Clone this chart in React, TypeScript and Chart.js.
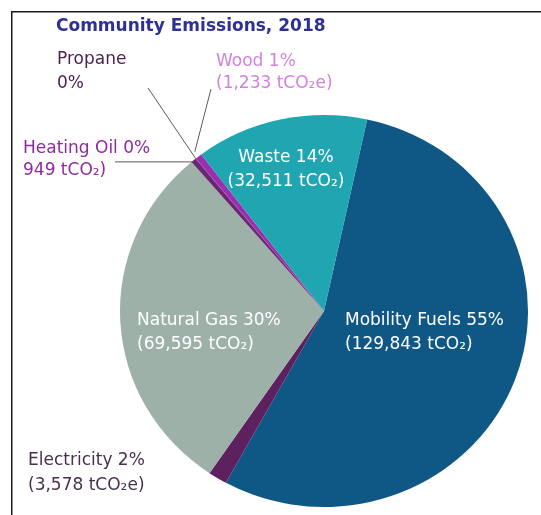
import React, { useEffect, useRef } from "react";
import { Chart, registerables } from "chart.js";

Chart.register(...registerables);

const categories = ["Mobility Fuels", "Electricity", "Natural Gas", "Heating Oil", "Propane", "Wood", "Waste"];
const emissions = [129843, 3578, 69595, 949, 120, 1233, 32511];
const percentLabels = ["55%", "2%", "30%", "0%", "0%", "1%", "14%"];
const amountLabels = ["(129,843 tCO₂)", "(3,578 tCO₂e)", "(69,595 tCO₂)", "949 tCO₂)", "", "(1,233 tCO₂e)", "(32,511 tCO₂)"];
const sliceColors = ["#0f5886", "#5e2160", "#9db1a9", "#6c2477", "#4a2450", "#9b2fb0", "#20a6b1"];
const titleText = "Community Emissions, 2018";

const SX = 1.02;
const SY = 0.98;

const labelPlugin = {
  id: "customLabels",
  beforeDatasetsDraw(chart: any) {
    const arc = chart.getDatasetMeta(0).data[0];
    const ctx = chart.ctx;
    ctx.save();
    ctx.translate(arc.x, arc.y);
    ctx.scale(SX, SY);
    ctx.translate(-arc.x, -arc.y);
  },
  afterDatasetsDraw(chart: any) {
    chart.ctx.restore();
  },
  afterDraw(chart: any) {
    const ctx = chart.ctx;
    const arcs = chart.getDatasetMeta(0).data;
    const edge = (i: number, extra = 0) => {
      const a = arcs[i];
      const mid = (a.startAngle + a.endAngle) / 2;
      const r = a.outerRadius + extra;
      return { x: a.x + Math.cos(mid) * r * SX, y: a.y + Math.sin(mid) * r * SY };
    };
    ctx.save();
    // frame
    ctx.strokeStyle = "#1a1a1a";
    ctx.lineWidth = 1.5;
    ctx.beginPath();
    ctx.moveTo(11.75, 515);
    ctx.lineTo(11.75, 11.75);
    ctx.lineTo(541, 11.75);
    ctx.stroke();

    // leader lines
    ctx.strokeStyle = "#5a5a5a";
    ctx.lineWidth = 1;
    const ho = edge(3);
    ctx.beginPath();
    ctx.moveTo(115, ho.y + 1.5);
    ctx.lineTo(ho.x, ho.y + 1.5);
    ctx.stroke();
    const pr = edge(4);
    ctx.beginPath();
    ctx.moveTo(148, 88);
    ctx.lineTo(pr.x, pr.y);
    ctx.stroke();
    const wd = edge(5, 6);
    ctx.beginPath();
    ctx.moveTo(211, 89);
    ctx.lineTo(wd.x, wd.y);
    ctx.stroke();

    // title
    ctx.fillStyle = "#2e3192";
    ctx.font = "bold 17px 'DejaVu Sans'";
    ctx.textAlign = "left";
    ctx.textBaseline = "alphabetic";
    ctx.fillText(titleText, 56, 31);

    ctx.font = "17px 'DejaVu Sans'";
    const put = (t: string, x: number, y: number, c: string, align: CanvasTextAlign = "left") => {
      ctx.fillStyle = c;
      ctx.textAlign = align;
      ctx.fillText(t, x, y);
    };
    // Mobility
    put(`${categories[0]} ${percentLabels[0]}`, 345, 325, "#ffffff");
    put(amountLabels[0], 345, 349, "#ffffff");
    // Natural gas
    put(`${categories[2]} ${percentLabels[2]}`, 137, 325, "#ffffff");
    put(amountLabels[2], 137, 349, "#ffffff");
    // Waste
    put(`${categories[6]} ${percentLabels[6]}`, 286, 162, "#ffffff", "center");
    put(amountLabels[6], 286, 186, "#ffffff", "center");
    // Electricity
    put(`${categories[1]} ${percentLabels[1]}`, 28, 465, "#4a2f4e");
    put(amountLabels[1], 28, 490, "#4a2f4e");
    // Heating oil
    put(`${categories[3]} ${percentLabels[3]}`, 23, 153, "#8f2aa0");
    put(amountLabels[3], 23, 175, "#8f2aa0");
    // Propane
    put(categories[4], 57, 64, "#4d2350");
    put(percentLabels[4], 57, 88, "#4d2350");
    // Wood
    put(`${categories[5]} ${percentLabels[5]}`, 216, 66, "#d282de");
    put(amountLabels[5], 216, 88, "#d282de");
    ctx.restore();
  },
};

export default function App() {
  const ref = useRef<HTMLCanvasElement | null>(null);
  useEffect(() => {
    if (!ref.current) return;
    const chart = new Chart(ref.current, {
      type: "pie",
      data: {
        labels: categories,
        datasets: [
          {
            data: emissions,
            backgroundColor: sliceColors,
            borderWidth: 0,
          },
        ],
      },
      options: {
        responsive: false,
        animation: false,
        rotation: 12.2,
        layout: { padding: { left: 124, right: 17, top: 111, bottom: 4 } },
        plugins: {
          legend: { display: false },
          tooltip: { enabled: false },
          title: { display: false },
        },
      },
      plugins: [labelPlugin],
    });
    return () => chart.destroy();
  }, []);
  return (
    <div style={{ position: "fixed", left: 0, top: 0, width: 541, height: 515, background: "#ffffff" }}>
      <canvas ref={ref} width={541} height={515} style={{ display: "block" }} />
    </div>
  );
}
